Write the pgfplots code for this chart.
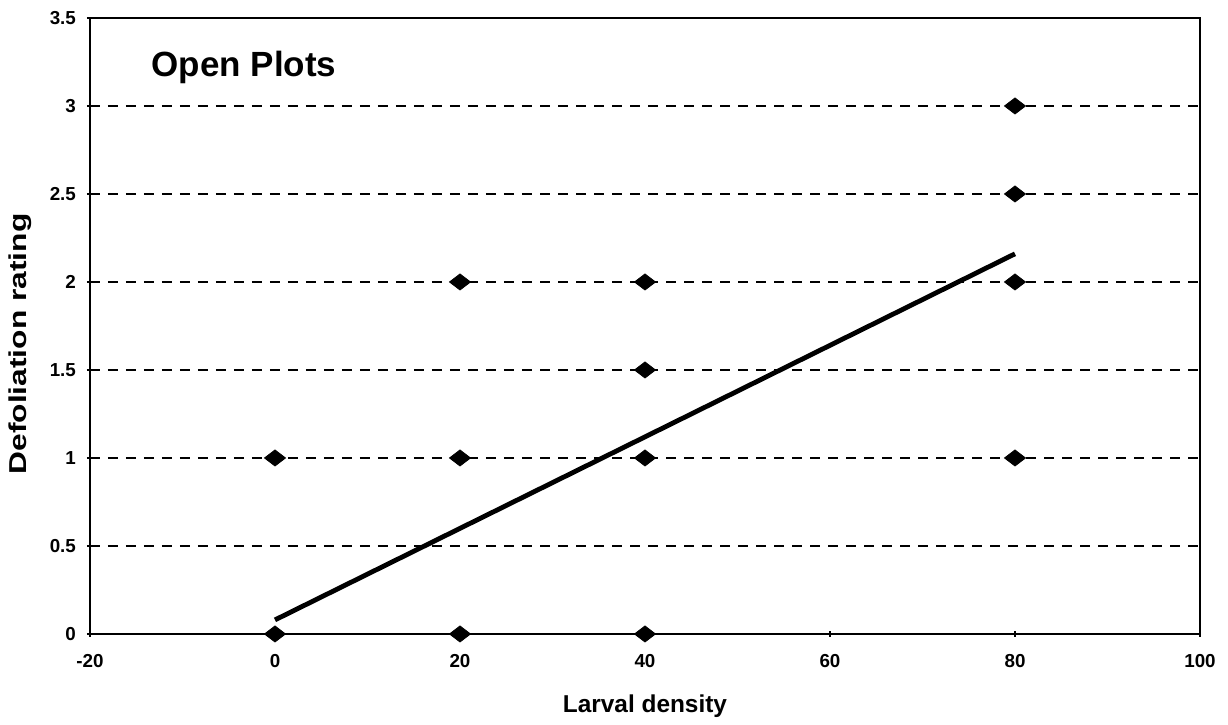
\documentclass[border=0pt]{standalone}
\usepackage{fontspec}
\setmainfont{Liberation Sans}
\usepackage{pgfplots}
\pgfplotsset{compat=1.18}
\begin{document}
\begin{tikzpicture}
\begin{axis}[
  scale only axis,
  width=555pt, height=308pt,
  xmin=-20, xmax=100, ymin=0, ymax=3.5,
  xtick={-20,0,20,40,60,80,100},
  ytick={0,0.5,1,1.5,2,2.5,3,3.5},
  yticklabels={0,0.5,1,1.5,2,2.5,3,3.5},
  xticklabels={-20,0,20,40,60,80,100},
  tick align=center,
  major tick length=3pt,
  xtick pos=bottom, ytick pos=left,
  axis line style={line width=0.9pt},
  tick style={black, line width=0.6pt},
  ymajorgrids,
  grid style={black, dashed, line width=0.6pt, dash pattern=on 5pt off 4pt},
  ticklabel style={font=\bfseries\fontsize{9.4}{10}\selectfont},
  xticklabel style={yshift=-5pt},
  yticklabel style={xshift=-2pt},
  xlabel={\textbf{Larval density}},
  ylabel={\textbf{Defoliation rating}},
  label style={font=\bfseries\fontsize{12.2}{14}\selectfont},
  xlabel style={at={(axis description cs:0.5,0)}, anchor=center, yshift=-36pt},
  ylabel style={at={(axis description cs:0,0.5)}, anchor=center, yshift=35pt, xshift=-9pt, xscale=1.3},
  clip=false,
]
\addplot[only marks, mark=diamond*, mark size=4pt, mark options={fill=black, draw=black, xscale=1.75}] coordinates {
  (0,0) (0,1)
  (20,0) (20,1) (20,2)
  (40,0) (40,1) (40,1.5) (40,2)
  (80,1) (80,2) (80,2.5) (80,3)
};
\addplot[black, line width=2.4pt, no marks] coordinates {(0,0.08) (80,2.16)};
\node[anchor=west, font=\bfseries\fontsize{17.5}{20}\selectfont] at (axis cs:-14.1,3.22) {Open Plots};
\coordinate (bl) at (rel axis cs:0,0);
\coordinate (tr) at (rel axis cs:1,1);
\end{axis}
\path ([shift={(-45pt,-43.5pt)}]bl) rectangle ([shift={(14pt,9pt)}]tr);
\end{tikzpicture}
\end{document}
